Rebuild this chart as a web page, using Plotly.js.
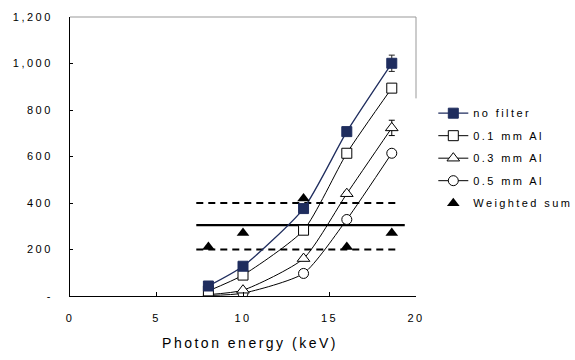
<!DOCTYPE html>
<html>
<head>
<meta charset="utf-8">
<script src="https://cdn.plot.ly/plotly-3.0.1.min.js"></script>
<style>
html,body{margin:0;padding:0;background:#fff;}
#chart{width:575px;height:360px;}
.xtick text,.ytick text{letter-spacing:2.5px;}
.legendtext{letter-spacing:2.4px;}
.xtitle{letter-spacing:2.5px;transform:translateX(7px);}
</style>
</head>
<body>
<div id="chart"></div>
<script>
// Data
const energy = [8, 10, 13.5, 16, 18.6];
const noFilter = [43, 128, 376, 707, 1001];
const noFilterErr = [3, 5, 8, 12, 35];
const al01 = [22, 90, 283, 614, 894];
const al01Err = [2, 4, 6, 10, 14];
const al03 = [6, 25, 161, 440, 723];
const al03Err = [1, 3, 6, 10, 33];
const al05 = [2, 12, 97, 329, 614];
const weighted = [211, 271, 419, 211, 271];

const meanX = [7.3, 19.35];
const bandX = [7.3, 19.0];
const meanLevel = 305;
const upperLevel = 400;
const lowerLevel = 200;

const yTickVals = [0, 200, 400, 600, 800, 1000, 1200];
const yTickText = ['-', '200', '400', '600', '800', '1,000', '1,200'];
const xTickVals = [0, 5, 10, 15, 20];

const navy = '#1f2d5e';
const smooth = 0.6;

const traces = [
  {x: meanX, y: meanX.map(() => meanLevel), mode: 'lines', showlegend: false, hoverinfo: 'skip',
   line: {color: '#000', width: 2.2}},
  {x: bandX, y: bandX.map(() => upperLevel), mode: 'lines', showlegend: false, hoverinfo: 'skip',
   line: {color: '#000', width: 2, dash: '7px,5px'}},
  {x: bandX, y: bandX.map(() => lowerLevel), mode: 'lines', showlegend: false, hoverinfo: 'skip',
   line: {color: '#000', width: 2, dash: '7px,5px'}},
  {x: energy, y: al05, name: '0.5 mm Al', legendgroup: 'd', legendrank: 4, mode: 'lines+markers',
   line: {color: '#000', width: 1, shape: 'spline', smoothing: smooth},
   marker: {symbol: 'circle', size: 10, color: '#fff', line: {color: '#000', width: 1}}},
  {x: energy, y: al03, name: '0.3 mm Al', legendgroup: 'c', legendrank: 3, mode: 'lines+markers',
   line: {color: '#000', width: 1, shape: 'spline', smoothing: smooth},
   error_y: {type: 'data', array: al03Err, visible: true, color: '#000', thickness: 1, width: 3},
   marker: {symbol: 'triangle-up', size: 11, color: '#fff', line: {color: '#000', width: 1}}},
  {x: energy, y: al01, name: '0.1 mm Al', legendgroup: 'b', legendrank: 2, mode: 'lines+markers',
   line: {color: '#000', width: 1, shape: 'spline', smoothing: smooth},
   error_y: {type: 'data', array: al01Err, visible: true, color: '#000', thickness: 1, width: 3},
   marker: {symbol: 'square', size: 10, color: '#fff', line: {color: '#000', width: 1}}},
  {x: energy, y: noFilter, name: 'no filter', legendgroup: 'a', legendrank: 1, mode: 'lines+markers',
   line: {color: navy, width: 1.3, shape: 'spline', smoothing: smooth},
   error_y: {type: 'data', array: noFilterErr, visible: true, color: '#222', thickness: 1, width: 3},
   marker: {symbol: 'square', size: 10, color: navy, line: {color: navy, width: 1}}},
  {x: energy, y: weighted, name: 'Weighted sum', legendgroup: 'e', legendrank: 5, mode: 'markers',
   marker: {symbol: 'triangle-up', size: 11, color: '#000', line: {color: '#000', width: 0}}}
];

const layout = {
  width: 575, height: 360,
  margin: {l: 70, r: 159.3, t: 16.7, b: 64, pad: 0, autoexpand: false},
  paper_bgcolor: '#fff', plot_bgcolor: '#fff',
  font: {family: 'Liberation Sans, Arial, sans-serif', size: 11, color: '#000'},
  showlegend: true,
  legend: {x: 1.05, xanchor: 'left', y: 0.494, yanchor: 'middle', bgcolor: 'rgba(0,0,0,0)',
    traceorder: 'grouped', tracegroupgap: 3.5, font: {size: 11}, itemwidth: 30},
  xaxis: {range: [0, 20], tickvals: xTickVals, ticktext: xTickVals.map(String),
    showgrid: false, zeroline: false, showline: true, linecolor: '#000', linewidth: 1,
    ticks: 'inside', ticklen: 4, tickcolor: '#000', ticklabelstandoff: 12,
    title: {text: 'Photon energy (keV)', font: {size: 14}, standoff: 14}},
  yaxis: {range: [0, 1200], tickvals: yTickVals, ticktext: yTickText,
    showgrid: false, zeroline: false, showline: true, linecolor: '#000', linewidth: 1,
    ticks: 'inside', ticklen: 3, tickcolor: '#000', ticklabelstandoff: 14},
  shapes: [
    {type: 'line', xref: 'paper', yref: 'paper', x0: 0, x1: 1, y0: 1, y1: 1,
     line: {color: '#999', width: 1}},
    {type: 'line', xref: 'paper', yref: 'y', x0: 1, x1: 1, y0: 1200, y1: 850,
     line: {color: '#999', width: 1}}
  ]
};

Plotly.newPlot('chart', traces, layout, {displayModeBar: false, staticPlot: true});
</script>
</body>
</html>
